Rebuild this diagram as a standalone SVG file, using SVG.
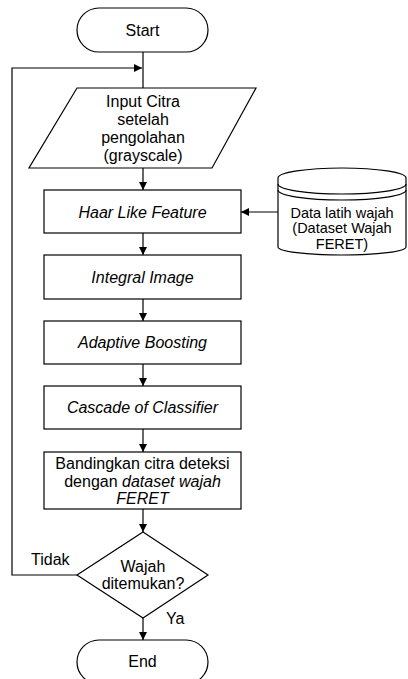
<svg xmlns="http://www.w3.org/2000/svg" width="408" height="679" viewBox="0 0 408 679">
<style>
.s{fill:#fff;stroke:#000;stroke-width:1.2}
.l{fill:none;stroke:#000;stroke-width:1.2}
text{font-family:"Liberation Sans",Arial,sans-serif;font-size:16px;fill:#000;text-anchor:middle}
.i{font-style:italic}
.sm{font-size:14.5px}
.lab{text-anchor:start}
</style>
<defs>
<marker id="a" viewBox="0 0 10 10" refX="10" refY="5" markerWidth="8" markerHeight="8" markerUnits="userSpaceOnUse" orient="auto">
<path d="M0,0 L10,5 L0,10 Z" fill="#000"/>
</marker>
</defs>
<rect width="408" height="679" fill="#fff"/>
<g id="connectors">
<path class="l" d="M143,52 V88"/>
<path class="l" d="M77,575 H12 V68 H142" marker-end="url(#a)"/>
<path class="l" d="M143,168 V190" marker-end="url(#a)"/>
<path class="l" d="M278,212 H241" marker-end="url(#a)"/>
<path class="l" d="M143,233 V255" marker-end="url(#a)"/>
<path class="l" d="M143,299 V321" marker-end="url(#a)"/>
<path class="l" d="M143,364 V386" marker-end="url(#a)"/>
<path class="l" d="M143,429 V452" marker-end="url(#a)"/>
<path class="l" d="M143,509 V532" marker-end="url(#a)"/>
<path class="l" d="M143,618 V640" marker-end="url(#a)"/>
</g>
<g id="start">
<rect class="s" x="77" y="8" width="131" height="44" rx="22" ry="22"/>
<text x="142.5" y="35.5">Start</text>
</g>
<g id="input">
<path class="s" d="M77,88 H256 L212,168 H29 Z"/>
<text x="143" y="106.5">Input Citra</text>
<text x="143" y="124.5">setelah</text>
<text x="143" y="142.5">pengolahan</text>
<text x="143" y="160.5">(grayscale)</text>
</g>
<g id="data">
<path class="s" d="M278,178 A64,10 0 0,1 406,178 V247 A64,8 0 0,1 278,247 Z"/>
<path class="l" d="M278,184 A64,10 0 0,0 406,184"/>
<path class="l" d="M278,190 A64,10 0 0,0 406,190"/>
<text class="sm" x="342" y="218">Data latih wajah</text>
<text class="sm" x="342" y="233">(Dataset Wajah</text>
<text class="sm" x="342" y="249">FERET)</text>
</g>
<g id="haar">
<rect class="s" x="44" y="190" width="197" height="43"/>
<text class="i" x="142.5" y="217.5">Haar Like Feature</text>
</g>
<g id="integral">
<rect class="s" x="44" y="255" width="197" height="44"/>
<text class="i" x="142.5" y="283">Integral Image</text>
</g>
<g id="adaptive">
<rect class="s" x="44" y="321" width="197" height="43"/>
<text class="i" x="142.5" y="348">Adaptive Boosting</text>
</g>
<g id="cascade">
<rect class="s" x="44" y="386" width="197" height="43"/>
<text class="i" x="142.5" y="413">Cascade of Classifier</text>
</g>
<g id="bandingkan">
<rect class="s" x="44" y="452" width="197" height="57"/>
<text x="142.5" y="469">Bandingkan citra deteksi</text>
<text x="142.5" y="486.5">dengan <tspan class="i">dataset wajah</tspan></text>
<text class="i" x="142.5" y="504">FERET</text>
</g>
<g id="decision">
<path class="s" d="M143,532 L208,575 L143,618 L77,575 Z"/>
<text x="143" y="572">Wajah</text>
<text x="143" y="589">ditemukan?</text>
</g>
<g id="labels">
<text class="lab" x="31" y="565">Tidak</text>
<text class="lab" x="166" y="624">Ya</text>
</g>
<g id="end">
<rect class="s" x="77" y="640" width="131" height="44" rx="22" ry="22"/>
<text x="142.5" y="667">End</text>
</g>
</svg>
